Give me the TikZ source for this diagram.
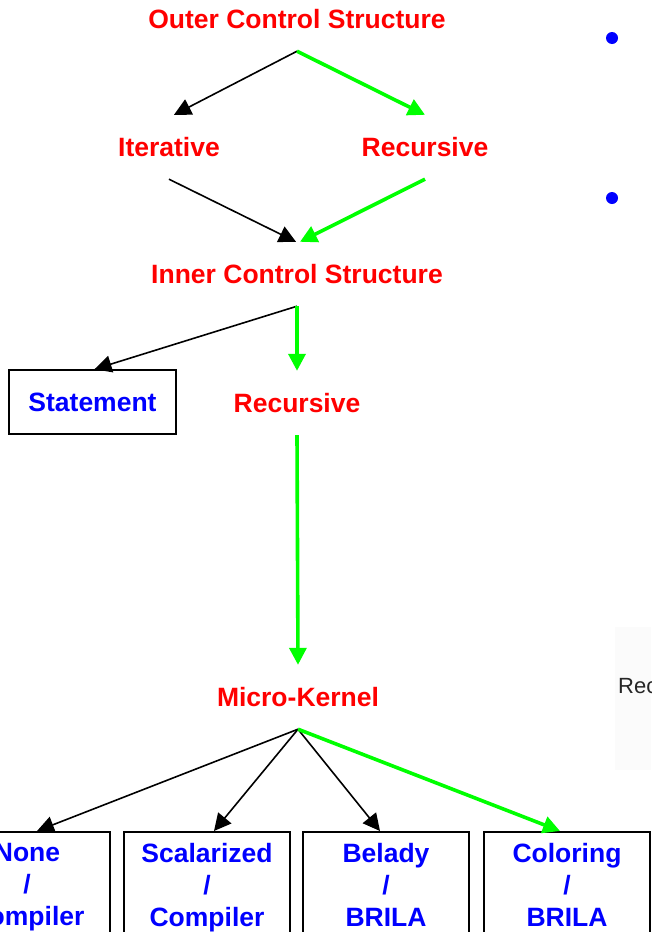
\documentclass[tikz,border=0pt]{standalone}
\usepackage{fontspec}
\setmainfont{Liberation Sans}
\usepackage{tikz}
\usetikzlibrary{arrows.meta,positioning}
\definecolor{Title}{HTML}{FF0000}
\definecolor{Leaf}{HTML}{0000FF}
\definecolor{Path}{HTML}{00FF00}

\begin{document}
\begin{tikzpicture}[x=1pt,y=-1pt,
  level/.style={text=Title,font=\bfseries\fontsize{26.5}{30}\selectfont,inner sep=0pt,minimum height=64pt},
  leafbox/.style={draw,line width=1.6pt,text=Leaf,align=center,anchor=north,minimum width=166pt,inner ysep=11pt,font=\bfseries\fontsize{26.5}{32}\selectfont},
  arr/.style={-{Triangle[length=17pt,width=17pt]},line width=1.6pt},
  hot/.style={-{Triangle[length=17pt,width=17pt]},line width=3.6pt,draw=Path}]
  \useasboundingbox (0,0) rectangle (651,932);
  \fill[black!1.5] (615,627) rectangle (651,770);
  \node[level] (outer) at (297,19) {Outer Control Structure};
  \node[level] (iter) at (169,147) {Iterative};
  \node[level] (recA) at (425,147) {Recursive};
  \node[level] (inner) at (297,274) {Inner Control Structure};
  \node[draw,line width=1.6pt,text=Leaf,font=\bfseries\fontsize{26.5}{30}\selectfont,minimum width=167pt,minimum height=64pt] (stmt) at (92.5,402) {Statement};
  \node[level] (recB) at (297,403) {Recursive};
  \node[level] (micro) at (298,697) {Micro-Kernel};
  \node[leafbox] (none) at (27,831) {None\\/\\Compiler};
  \node[leafbox] (scal) at (207,831) {Scalarized\\/\\Compiler};
  \node[leafbox] (bela) at (386,831) {Belady\\/\\BRILA};
  \node[leafbox] (colr) at (567,831) {Coloring\\/\\BRILA};
  \node[circle,fill=Leaf,minimum size=12pt,inner sep=0pt] (dotA) at (612,38) {};
  \node[circle,fill=Leaf,minimum size=12pt,inner sep=0pt] (dotB) at (612,198) {};
  \node[anchor=base west,inner sep=0pt,text=black!85,font=\fontsize{22}{26}\selectfont] (recC) at (618,693) {Rec};
  \draw[arr] (outer.south) -- ([xshift=5pt]iter.north); \draw[hot] (outer.south) -- (recA.north);
  \draw[arr] (iter.south) -- ([xshift=-1pt]inner.north); \draw[hot] (recA.south) -- ([xshift=3pt]inner.north);
  \draw[arr] (inner.south) -- ([xshift=2pt]stmt.north); \draw[hot] (inner.south) -- (recB.north);
  \draw[hot] (recB.south) -- (micro.north);
  \draw[arr] (micro.south) -- ([xshift=10pt]none.north); \draw[arr] (micro.south) -- ([xshift=7pt]scal.north);
  \draw[arr] (micro.south) -- ([xshift=-6pt]bela.north); \draw[hot] (micro.south) -- ([xshift=-7pt]colr.north);
\end{tikzpicture}
\end{document}
